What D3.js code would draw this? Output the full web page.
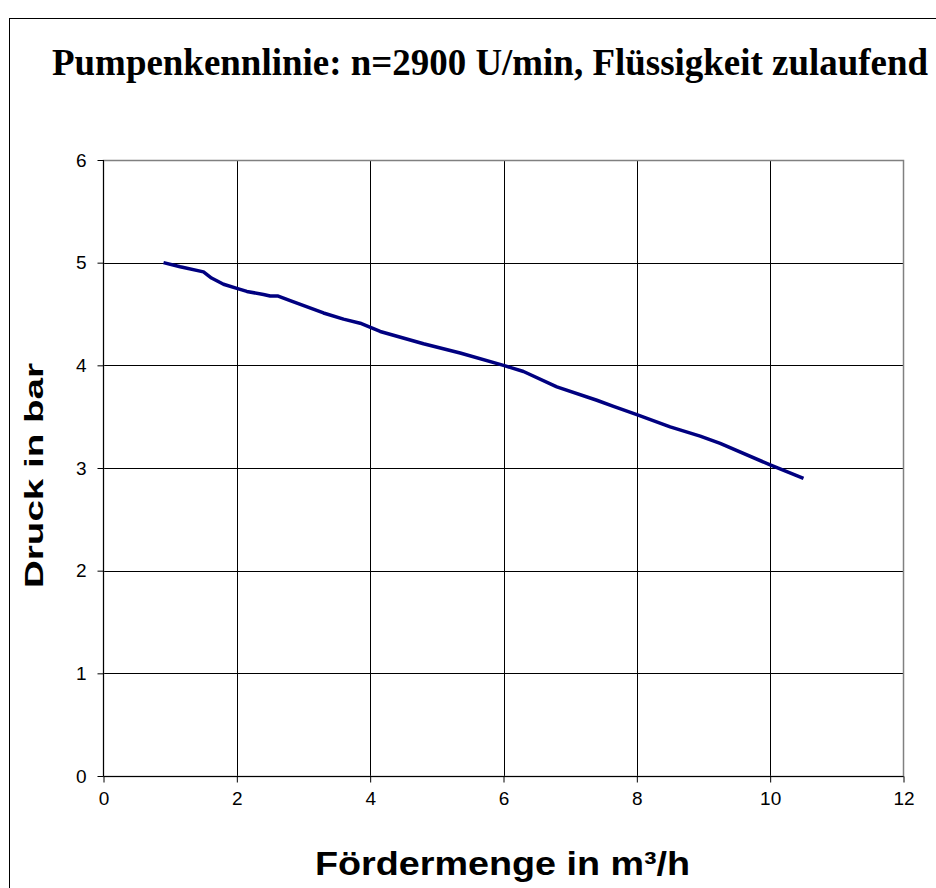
<!DOCTYPE html>
<html>
<head>
<meta charset="utf-8">
<script src="https://cdn.jsdelivr.net/npm/d3@7"></script>
<style>
body { margin: 0; background: white; }
</style>
</head>
<body>
<div id="canvas"></div>
<script>
var w = 936;
var h = 888;

// Pumpenkennlinie
var foerdermenge = [0.9, 1.15, 1.5, 1.62, 1.8, 2.0, 2.15, 2.4, 2.5, 2.62, 2.8, 3.3, 3.6, 3.85, 4.15,
    4.8, 5.35, 6.0, 6.3, 6.8, 7.4, 7.65, 8.0, 8.5, 8.95, 9.25, 10.0, 10.5];
var druck = [5.0, 4.96, 4.91, 4.85, 4.79, 4.75, 4.72, 4.69, 4.675, 4.675, 4.63, 4.51, 4.45, 4.41, 4.33,
    4.21, 4.12, 4.0, 3.94, 3.79, 3.66, 3.60, 3.52, 3.40, 3.31, 3.24, 3.03, 2.90];
var xTicks = [0, 2, 4, 6, 8, 10, 12];
var yTicks = [0, 1, 2, 3, 4, 5, 6];

var data = foerdermenge.map(function(x, i) {
    return { q: x, p: druck[i] };
});

var canvas = d3.select("#canvas")
    .append("svg")
    .attr("width", w)
    .attr("height", h)
    .style("background-color", "white");

// Rahmen
canvas.append("rect")
    .attr("x", 9.5)
    .attr("y", 18.5)
    .attr("width", 960)
    .attr("height", 900)
    .attr("fill", "none")
    .attr("stroke", "black")
    .attr("stroke-width", 1);

var xScale = d3.scaleLinear()
    .domain([0, 12])
    .range([103.5, 903.5]);

var yScale = d3.scaleLinear()
    .domain([0, 6])
    .range([776, 160]);

// Gitter
canvas.append("g")
    .selectAll("line")
    .data(xTicks.slice(1, -1))
    .join("line")
    .attr("x1", d => Math.round(xScale(d)) + 0.5)
    .attr("x2", d => Math.round(xScale(d)) + 0.5)
    .attr("y1", yScale(6))
    .attr("y2", yScale(0))
    .attr("stroke", "black")
    .attr("stroke-width", 1);

canvas.append("g")
    .selectAll("line")
    .data(yTicks.slice(1, -1))
    .join("line")
    .attr("x1", xScale(0))
    .attr("x2", xScale(12))
    .attr("y1", d => Math.round(yScale(d)) + 0.5)
    .attr("y2", d => Math.round(yScale(d)) + 0.5)
    .attr("stroke", "black")
    .attr("stroke-width", 1);

canvas.append("rect")
    .attr("x", xScale(0))
    .attr("y", yScale(6) + 0.5)
    .attr("width", xScale(12) - xScale(0))
    .attr("height", yScale(0) - yScale(6))
    .attr("fill", "none")
    .attr("stroke", "#808080")
    .attr("stroke-width", 1.5);

// Achsen
var xAxis = d3.axisBottom(xScale)
    .tickValues(xTicks)
    .tickFormat(d3.format("d"))
    .tickSize(6)
    .tickPadding(9);

var yAxis = d3.axisLeft(yScale)
    .tickValues(yTicks)
    .tickFormat(d3.format("d"))
    .tickSize(6)
    .tickPadding(11);

canvas.append("g")
    .attr("transform", "translate(0," + (yScale(0) + 0.5) + ")")
    .call(xAxis)
    .call(g => g.select(".domain").attr("d", "M" + xScale(0) + ",0H" + xScale(12)))
    .attr("color", "black")
    .selectAll("text")
    .style("font-family", "Arial, 'Liberation Sans', sans-serif")
    .style("font-size", "19px");

canvas.append("g")
    .attr("transform", "translate(" + xScale(0) + ",0)")
    .call(yAxis)
    .call(g => g.select(".domain").attr("d", "M0," + yScale(6) + "V" + yScale(0)))
    .attr("color", "black")
    .selectAll("text")
    .style("font-family", "Arial, 'Liberation Sans', sans-serif")
    .style("font-size", "19px");

// Kennlinie
var line = d3.line()
    .x(d => xScale(d.q))
    .y(d => yScale(d.p));

canvas.append("path")
    .datum(data)
    .attr("d", line)
    .attr("fill", "none")
    .attr("stroke", "#000080")
    .attr("stroke-width", 3.5)
    .attr("stroke-linejoin", "round");

// Titel
canvas.append("text")
    .attr("x", 52)
    .attr("y", 75)
    .attr("textLength", 876)
    .attr("lengthAdjust", "spacingAndGlyphs")
    .style("font-family", "'Times New Roman', 'Liberation Serif', serif")
    .style("font-weight", "bold")
    .style("font-size", "38px")
    .text("Pumpenkennlinie: n=2900 U/min, Flüssigkeit zulaufend");

canvas.append("text")
    .attr("x", 315)
    .attr("y", 875)
    .attr("textLength", 375)
    .attr("lengthAdjust", "spacingAndGlyphs")
    .style("font-family", "Arial, 'Liberation Sans', sans-serif")
    .style("font-weight", "bold")
    .style("font-size", "34px")
    .text("Fördermenge in m³/h");

canvas.append("text")
    .attr("transform", "translate(43,588) rotate(-90)")
    .attr("textLength", 225)
    .attr("lengthAdjust", "spacingAndGlyphs")
    .style("font-family", "Arial, 'Liberation Sans', sans-serif")
    .style("font-weight", "bold")
    .style("font-size", "25px")
    .text("Druck in bar");
</script>
</body>
</html>
